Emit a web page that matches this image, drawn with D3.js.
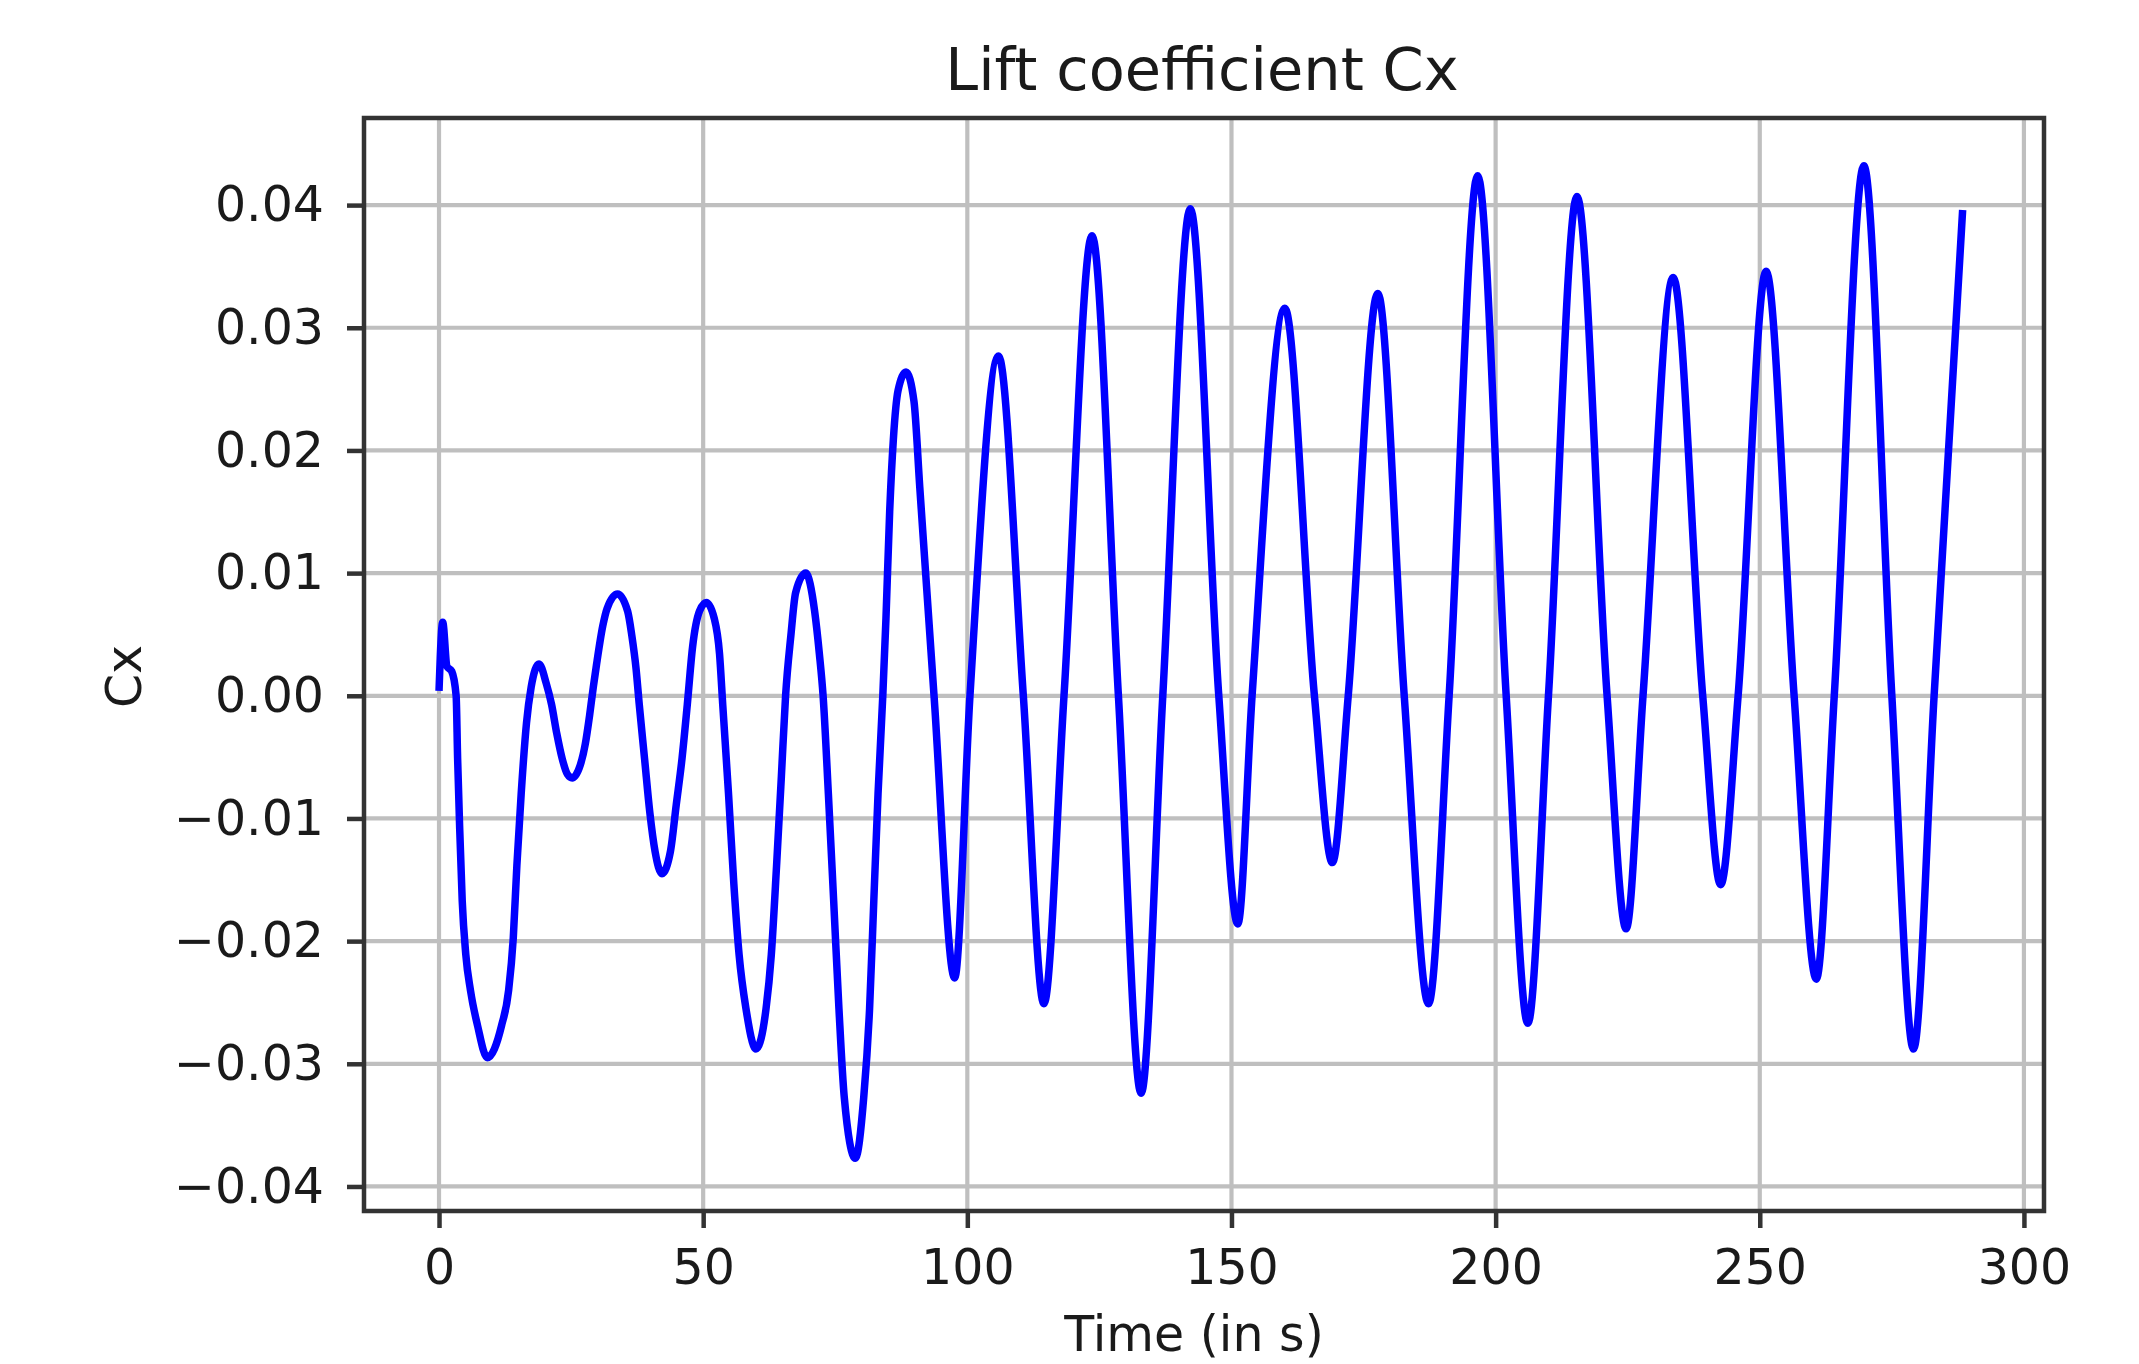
<!DOCTYPE html>
<html>
<head>
<meta charset="utf-8">
<script src="https://cdn.jsdelivr.net/npm/d3@7"></script>
<style>
  html, body { margin: 0; padding: 0; background: #ffffff; }
  svg { display: block; }
  text { font-family: "DejaVu Sans", sans-serif; fill: #1a1a1a; }
</style>
</head>
<body>
<svg id="chart" width="2139" height="1364"></svg>
<script>
// ---- data ----
const timeValues = [
  0, 0.7, 1.5, 2.4, 3.24, 3.52, 3.92, 4.39, 5.07, 5.95, 7.3, 9.13, 11.83, 13.18, 14.06, 14.74, 15.55, 16.56, 17.44, 18.93,
  20.3, 21.3, 22.3, 23.3, 24.3, 25.2, 26.7, 27.7, 28.5, 29.2, 29.8, 31.0, 31.8, 33.8, 35.7, 36.5, 37.3, 37.9, 38.9, 39.9,
  40.9, 42.2, 43.8, 44.9, 46.0, 47.0, 48.0, 49.3, 50.6, 52.1, 53.1, 53.7, 54.8, 55.8, 56.8, 58.1, 60.0, 61.9, 62.9, 63.9,
  64.8, 65.6, 66.6, 67.5, 69.4, 71.1, 72.0, 72.7, 73.7, 74.7, 75.7, 76.7, 78.8, 80.4, 81.5, 82.3, 83.1, 84.0, 84.6, 85.3,
  86.0, 86.9, 88.4, 89.9, 91.0, 93.7, 97.6, 100.5, 105.9, 110.6, 114.5, 118.3, 123.6, 128.6, 132.9, 137.0, 142.2, 147.6,
  151.2, 153.9, 160.1, 165.7, 169.1, 172.1, 177.7, 182.7, 187.3, 191.2, 196.6, 202.0, 206.1, 210.0, 215.4, 221.1, 224.7,
  227.9, 233.6, 239.2, 242.6, 245.9, 251.2, 256.5, 260.7, 264.1, 269.7, 275.0, 279.1, 283.0, 288.4
];
const cxValues = [
  0.0004, 0.0060, 0.0024, 0.0020, 0.0000, -0.0051, -0.0109, -0.0167, -0.0211, -0.0240, -0.0269, -0.0295, -0.0269, -0.0240, -0.0197, -0.0138, -0.0080, -0.0022, 0.0007, 0.0026,
  0.0010, -0.0007, -0.0031, -0.0051, -0.0064, -0.0067, -0.0057, -0.0039, -0.0016, 0.0007, 0.0025, 0.0057, 0.0071, 0.0083, 0.0069, 0.0049, 0.0022, -0.0007, -0.0051, -0.0095,
  -0.0127, -0.0145, -0.0127, -0.0089, -0.0051, -0.0007, 0.0040, 0.0069, 0.0076, 0.0063, 0.0034, -0.0007, -0.0080, -0.0153, -0.0211, -0.0255, -0.0288, -0.0255, -0.0211, -0.0138,
  -0.0066, 0.0000, 0.0049, 0.0084, 0.0100, 0.0069, 0.0034, 0.0000, -0.0080, -0.0167, -0.0255, -0.0327, -0.0377, -0.0327, -0.0255, -0.0167, -0.0080, 0.0000, 0.0063, 0.0150,
  0.0209, 0.0249, 0.0264, 0.0240, 0.0170, 0.0000, -0.0230, 0.0000, 0.0277, 0.0000, -0.0251, 0.0000, 0.0375, 0.0000, -0.0324, 0.0000, 0.0397, 0.0000,
  -0.0186, 0.0000, 0.0316, 0.0000, -0.0136, 0.0000, 0.0328, 0.0000, -0.0251, 0.0000, 0.0424, 0.0000, -0.0267, 0.0000, 0.0407, 0.0000, -0.0190,
  0.0000, 0.0341, 0.0000, -0.0154, 0.0000, 0.0346, 0.0000, -0.0231, 0.0000, 0.0432, 0.0000, -0.0288, 0.0000, 0.0396
];
const xTicks = [0, 50, 100, 150, 200, 250, 300];
const yTicks = [-0.04, -0.03, -0.02, -0.01, 0.00, 0.01, 0.02, 0.03, 0.04];
const titleText = "Lift coefficient Cx";
const xLabelText = "Time (in s)";
const yLabelText = "Cx";

// ---- layout ----
const L = 364, R = 2044, T = 118, B = 1211;
const svg = d3.select("#chart");

const x = d3.scaleLinear().domain([-14.2, 303.8]).range([L, R]);
const y = d3.scaleLinear().domain([-0.0420, 0.0471]).range([B, T]);

const points = timeValues.map((t, i) => ({ t, v: cxValues[i] }));

// grid
const grid = svg.append("g");
grid.selectAll("line.gx").data(xTicks).join("line")
  .attr("x1", d => x(d)).attr("x2", d => x(d))
  .attr("y1", T).attr("y2", B)
  .attr("stroke", "#bfbfbf").attr("stroke-width", 4.2);
grid.selectAll("line.gy").data(yTicks).join("line")
  .attr("x1", L).attr("x2", R)
  .attr("y1", d => y(d)).attr("y2", d => y(d))
  .attr("stroke", "#bfbfbf").attr("stroke-width", 4.2);

// clip
svg.append("clipPath").attr("id", "plotclip")
  .append("rect").attr("x", L).attr("y", T).attr("width", R - L).attr("height", B - T);

// data line
const line = d3.line()
  .x(d => x(d.t))
  .y(d => y(d.v))
  .curve(d3.curveMonotoneX);

svg.append("path")
  .datum(points)
  .attr("clip-path", "url(#plotclip)")
  .attr("fill", "none")
  .attr("stroke", "#0000ff")
  .attr("stroke-width", 7.5)
  .attr("stroke-linejoin", "round")
  .attr("stroke-linecap", "butt")
  .attr("d", line);

// axes
const fmtY = d => d3.format(".2f")(d).replace("-", "\u2212");
const xAxis = d3.axisBottom(x).tickValues(xTicks).tickSize(17).tickPadding(21).tickFormat(d => String(d));
const yAxis = d3.axisLeft(y).tickValues(yTicks).tickSize(17).tickPadding(23).tickFormat(fmtY);

const gx = svg.append("g").attr("transform", `translate(0,${B})`).call(xAxis);
const gy = svg.append("g").attr("transform", `translate(${L},0)`).call(yAxis);
[gx, gy].forEach(g => {
  g.select(".domain").remove();
  g.selectAll(".tick line").attr("stroke", "#333").attr("stroke-width", 4.5);
  g.selectAll(".tick text")
    .attr("fill", "#1a1a1a")
    .style("font-family", "'DejaVu Sans', sans-serif")
    .style("font-size", "49px");
});

// spines
svg.append("rect")
  .attr("x", L).attr("y", T).attr("width", R - L).attr("height", B - T)
  .attr("fill", "none").attr("stroke", "#333").attr("stroke-width", 4.5);

// title and labels
svg.append("text")
  .attr("x", (L + R) / 2 - 2).attr("y", 90)
  .attr("text-anchor", "middle")
  .style("font-size", "59px")
  .text(titleText);

svg.append("text")
  .attr("x", (L + R) / 2 - 10).attr("y", 1351)
  .attr("text-anchor", "middle")
  .style("font-size", "49px")
  .text(xLabelText);

svg.append("text")
  .attr("transform", `translate(141,${(T + B) / 2 + 12}) rotate(-90)`)
  .attr("text-anchor", "middle")
  .style("font-size", "49px")
  .text(yLabelText);
</script>
</body>
</html>
